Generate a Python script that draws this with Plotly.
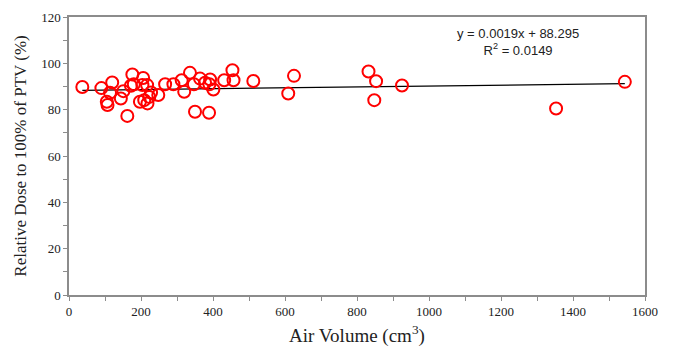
import plotly.graph_objects as go

air_volume = [37, 90, 120, 114, 105, 107, 162, 144, 151, 176, 172, 180, 206, 204, 217,
              197, 209, 218, 223, 228, 248, 267, 290, 313, 320, 336, 347, 350, 364, 378,
              389, 390, 392, 401, 431, 454, 457, 512, 609, 625, 832, 848, 853, 925, 1353, 1544]
rel_dose = [89.8, 89.3, 91.7, 87.3, 83.4, 82.0, 77.3, 84.8, 88.0, 95.2, 90.3, 91.0, 93.7, 90.6, 90.6,
            83.4, 84.1, 82.7, 85.5, 87.4, 86.3, 91.0, 91.0, 92.7, 87.7, 95.9, 91.0, 79.1, 93.4, 91.6,
            78.7, 91.0, 93.0, 88.7, 92.7, 97.0, 92.7, 92.4, 87.0, 94.6, 96.5, 84.1, 92.3, 90.4, 80.5, 92.0]

slope = 0.0019
intercept = 88.295
fit_x = [min(air_volume), max(air_volume)]
fit_y = [slope * v + intercept for v in fit_x]

fig = go.Figure()
fig.add_trace(go.Scatter(x=fit_x, y=fit_y, mode="lines",
                         line=dict(color="black", width=1.2), showlegend=False, hoverinfo="skip"))
fig.add_trace(go.Scatter(x=air_volume, y=rel_dose, mode="markers",
                         marker=dict(symbol="circle-open", size=12, color="#ff0000",
                                     line=dict(width=2, color="#ff0000")),
                         showlegend=False))

axis_common = dict(showgrid=False, zeroline=False, showline=True, linecolor="#8c8c8c",
                   linewidth=1.5, mirror=True, ticks="outside", ticklen=4, tickcolor="#8c8c8c",
                   automargin=False,
                   tickfont=dict(family="Liberation Serif", size=13, color="#222"))

fig.update_xaxes(range=[0, 1600], dtick=200,
                 minor=dict(dtick=100, ticks="outside", ticklen=4, tickcolor="#8c8c8c"),
                 title=dict(text="Air Volume (cm<sup>3</sup>)",
                            font=dict(family="Liberation Serif", size=19, color="#222"), standoff=11),
                 **axis_common)
fig.update_yaxes(range=[0, 120], dtick=20,
                 minor=dict(dtick=10, ticks="outside", ticklen=4, tickcolor="#8c8c8c"),
                 title=dict(text="Relative Dose to 100% of PTV (%)",
                            font=dict(family="Liberation Serif", size=17, color="#222"), standoff=10),
                 **axis_common)

fig.add_annotation(x=0.78, y=0.91, xref="paper", yref="paper", showarrow=False,
                   xanchor="center", yanchor="middle",
                   text="y = 0.0019x + 88.295<br>R<sup>2</sup> = 0.0149",
                   font=dict(family="Liberation Sans", size=13, color="#222"), align="center")

fig.update_layout(width=676, height=347, paper_bgcolor="white", plot_bgcolor="white",
                  margin=dict(l=69, r=31, t=17, b=52, autoexpand=False))
fig.write_html("out.html", config={"displayModeBar": False},
               post_script="document.body.style.margin='0';")
